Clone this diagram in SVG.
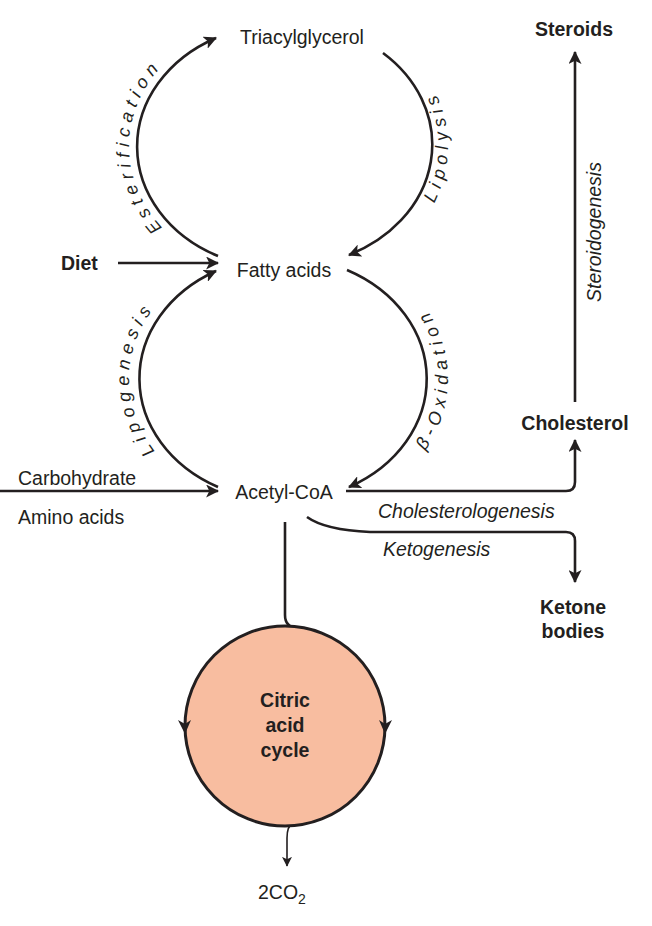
<svg xmlns="http://www.w3.org/2000/svg" width="652" height="926" viewBox="0 0 652 926">
<style>
.t{font-family:"Liberation Sans",Arial,sans-serif;font-size:19.5px;fill:#231f20}
.b{font-weight:bold}
.i{font-style:italic}
.lab{font-family:"Liberation Sans",Arial,sans-serif;font-size:18px;font-style:italic;fill:#231f20;letter-spacing:5.5px}
.ln{fill:none;stroke:#231f20;stroke-width:2.6}
.thin{fill:none;stroke:#231f20;stroke-width:1.6}
</style>
<defs>
<marker id="ah" markerWidth="13" markerHeight="13" viewBox="0 0 12 12" refX="11" refY="6" orient="auto" markerUnits="userSpaceOnUse">
<path d="M0,0 L12,6 L0,12 L3,6 Z" fill="#231f20"/>
</marker>
<marker id="ahs" markerWidth="10" markerHeight="10" viewBox="0 0 12 12" refX="11" refY="6" orient="auto" markerUnits="userSpaceOnUse">
<path d="M0,0 L12,6 L0,12 L3,6 Z" fill="#231f20"/>
</marker>
<path id="pEst" d="M282,276.5 A153,130 0 0,1 282,16.5"/>
<path id="pLip" d="M282,288.5 A166,142 0 0,0 282,4.5"/>
<path id="pLipo" d="M282,509 A153,130 0 0,1 282,249"/>
<path id="pBox" d="M282,521 A166,142 0 0,0 282,237"/>
</defs>
<g id="connectors">
<path class="ln" d="M218,256 A145,122 0 0,1 216,38" marker-end="url(#ah)"/>
<path class="ln" d="M383,53 A145,122 0 0,1 349,255" marker-end="url(#ah)"/>
<path class="ln" d="M218,487 A145,122 0 0,1 216,271" marker-end="url(#ah)"/>
<path class="ln" d="M347,270 A145,122 0 0,1 349,487" marker-end="url(#ah)"/>
<path class="ln" d="M118,263 L218,263" marker-end="url(#ah)"/>
<path class="ln" d="M0,491 L218,491" marker-end="url(#ah)"/>
<path class="ln" d="M346,491 L566,491 Q575,491 575,482 L575,440" marker-end="url(#ah)"/>
<path class="ln" d="M307,517 Q325,530 370,532 L566,532 Q575,532 575,541 L575,582" marker-end="url(#ah)"/>
<path class="ln" d="M575,402 L575,52" marker-end="url(#ah)"/>
<path class="ln" d="M285,522 L285,615 Q285,627 297,628"/>
<path class="thin" d="M293,823 Q287,826 287,838 L287,866" marker-end="url(#ahs)"/>
</g>
<g id="labels">
<text class="lab"><textPath href="#pEst" startOffset="50%" text-anchor="middle">Esterification</textPath></text>
<text class="lab"><textPath href="#pLip" startOffset="50%" text-anchor="middle">Lipolysis</textPath></text>
<text class="lab"><textPath href="#pLipo" startOffset="50%" text-anchor="middle">Lipogenesis</textPath></text>
<text class="lab"><textPath href="#pBox" startOffset="50%" text-anchor="middle">β-Oxidation</textPath></text>
<text class="t i" x="378" y="518">Cholesterologenesis</text>
<text class="t i" x="383" y="556">Ketogenesis</text>
<text class="t i" transform="translate(601,232) rotate(-90)" text-anchor="middle">Steroidogenesis</text>
</g>
<g id="triacylglycerol"><text class="t" x="302" y="44" text-anchor="middle">Triacylglycerol</text></g>
<g id="fatty-acids"><text class="t" x="284" y="277" text-anchor="middle">Fatty acids</text></g>
<g id="acetyl-coa"><text class="t" x="284" y="499" text-anchor="middle">Acetyl-CoA</text></g>
<g id="diet"><text class="t b" x="61" y="270">Diet</text></g>
<g id="carbohydrate"><text class="t" x="18" y="485">Carbohydrate</text></g>
<g id="amino-acids"><text class="t" x="18" y="524">Amino acids</text></g>
<g id="cholesterol"><text class="t b" x="575" y="430" text-anchor="middle">Cholesterol</text></g>
<g id="steroids"><text class="t b" x="574" y="36" text-anchor="middle">Steroids</text></g>
<g id="ketone-bodies"><text class="t b" x="573" y="614" text-anchor="middle">Ketone</text><text class="t b" x="573" y="638" text-anchor="middle">bodies</text></g>
<g id="citric-acid-cycle">
<circle cx="285" cy="726" r="100" fill="#f8bda0" stroke="#231f20" stroke-width="3"/>
<path d="M178,720 L185,734 L191,720 L185,724 Z" fill="#231f20"/>
<path d="M379,720 L385,734 L392,720 L385,724 Z" fill="#231f20"/>
<text class="t b" text-anchor="middle" x="285" y="707">Citric</text>
<text class="t b" text-anchor="middle" x="285" y="732">acid</text>
<text class="t b" text-anchor="middle" x="285" y="757">cycle</text>
</g>
<g id="co2"><text class="t" x="258" y="899">2CO<tspan font-size="14" dy="5">2</tspan></text></g>
</svg>
